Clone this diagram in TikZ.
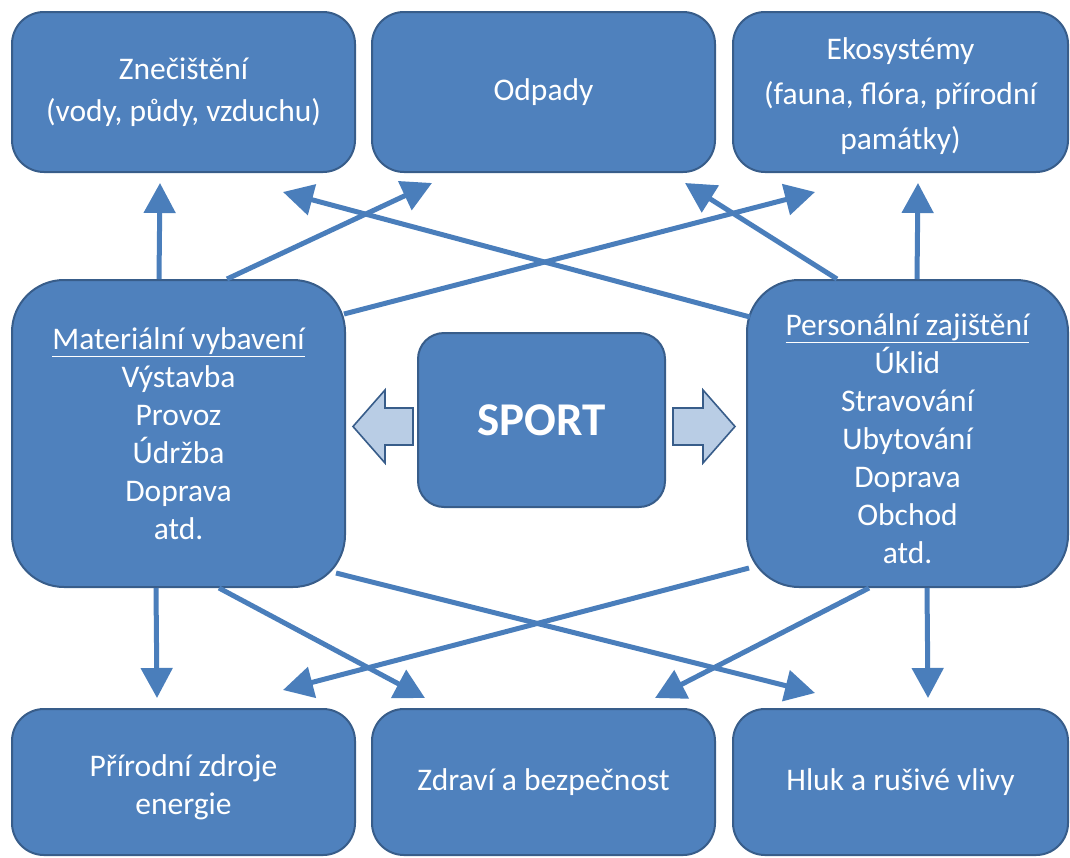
\documentclass[tikz,border=0pt]{standalone}
\usepackage{fontspec}
\setmainfont{Carlito}
\usetikzlibrary{arrows.meta,calc}
\definecolor{boxfill}{HTML}{4F81BD}
\definecolor{boxline}{HTML}{385D8A}
\definecolor{blockfill}{HTML}{B9CDE5}
\definecolor{conncol}{HTML}{4A7EBB}
\begin{document}
\begin{tikzpicture}[x=1pt,y=-1pt,
  box/.style={draw=boxline, line width=2pt, fill=boxfill, rounded corners=#1,
    text=white, align=center, inner sep=0pt, font=\fontsize{31.5}{38}\selectfont},
  topbox/.style={box=32pt, minimum width=343pt, minimum height=160pt,
    font=\fontsize{31.5}{42}\selectfont},
  botbox/.style={box=32pt, minimum width=343pt, minimum height=146pt},
  midbox/.style={box=52pt, minimum width=333pt, minimum height=307pt},
  label/.style={text=white, align=center, inner sep=0pt, font=\fontsize{31.5}{38}\selectfont},
  conn/.style={draw=conncol, line width=5pt, -{Triangle[length=30pt,width=31pt]}},
  block/.style={draw=boxline, line width=1.6pt, fill=blockfill, line join=miter}]
\useasboundingbox (0,0) rectangle (1070,857);

% top row
\node[topbox] (tl) at (183.5,92) {Znečištění\\(vody, půdy, vzduchu)};
\node[topbox] (tm) at (543.5,92) {Odpady};
\node[topbox, minimum width=335pt] (tr) at (900.5,92) {};
\node[label, font=\fontsize{31.5}{45}\selectfont] (trtext) at (900.5,96) {Ekosystémy\\(fauna, flóra, přírodní\\památky)};

% middle row
\node[midbox] (ml) at (178.5,433.5) {\underline{Materiální vybavení}\\Výstavba\\Provoz\\Údržba\\Doprava\\atd.};
\node[midbox, minimum width=321pt] (mr) at (907.5,433.5) {};
\node[label] (mrtext) at (907.5,439) {\underline{Personální zajištění}\\Úklid\\Stravování\\Ubytování\\Doprava\\Obchod\\atd.};
\node[box=26pt, minimum width=247pt, minimum height=174pt,
  font=\fontsize{47}{52}\selectfont\bfseries] (sport) at (541.5,420) {SPORT};

% bottom row
\node[botbox] (bl) at (183.5,782) {};
\node[label] (bltext) at (183.5,787) {Přírodní zdroje\\energie};
\node[botbox] (bm) at (543.5,782) {Zdraví a bezpečnost};
\node[botbox, minimum width=335pt] (br) at (900.5,782) {Hluk a rušivé vlivy};

% block arrows from SPORT
\draw[block] (413,408) -- (385,408) -- (385,390) -- (353,426.5) -- (385,463)
  -- (385,445) -- (413,445) -- cycle;
\draw[block] (673,408) -- (703,408) -- (703,390) -- (735,426.5) -- (703,463)
  -- (703,445) -- (673,445) -- cycle;

% arrow tips
\coordinate (t1) at (160,183);
\coordinate (t2) at (432,183);
\coordinate (t3) at (815,192);
\coordinate (t4) at (283,192);
\coordinate (t5) at (685,183);
\coordinate (t6) at (918,183);
\coordinate (b1) at (157,698);
\coordinate (b2) at (425,698);
\coordinate (b3) at (815,693);
\coordinate (b4) at (283,690);
\coordinate (b5) at (655,698);
\coordinate (b6) at (928,698);

% upward connectors
\draw[conn] ($(ml.north west)+(148,0)$) -- (t1);
\draw[conn] ($(ml.north west)+(216,0)$) -- (t2);
\draw[conn] ($(ml.north east)+(-2,35)$) -- (t3);
\draw[conn] ($(mr.north west)+(4,38)$) -- (t4);
\draw[conn] ($(mr.north west)+(91,0)$) -- (t5);
\draw[conn] ($(mr.north west)+(171,0)$) -- (t6);

% downward connectors
\draw[conn] ($(ml.south west)+(145,0)$) -- (b1);
\draw[conn] ($(ml.south west)+(208,0)$) -- (b2);
\draw[conn] ($(ml.south east)+(-10,-15)$) -- (b3);
\draw[conn] ($(mr.south west)+(3,-20)$) -- (b4);
\draw[conn] ($(mr.south west)+(123,0)$) -- (b5);
\draw[conn] ($(mr.south west)+(181,0)$) -- (b6);
\end{tikzpicture}
\end{document}
